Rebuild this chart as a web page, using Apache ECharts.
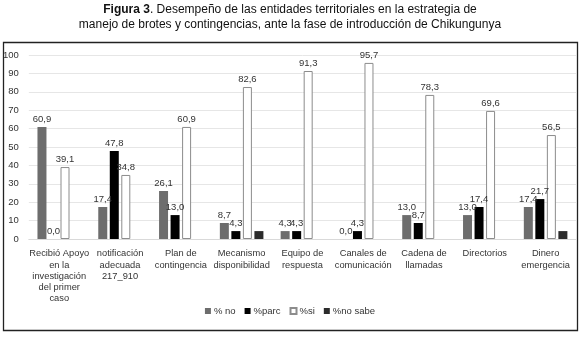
<!DOCTYPE html>
<html><head><meta charset="utf-8">
<script src="https://cdn.jsdelivr.net/npm/echarts@6/dist/echarts.min.js"></script>
<style>html,body{margin:0;padding:0;background:#fff}#c{width:580px;height:341px}</style>
</head><body><div id="c"></div>
<script>
const categories = [
  "Recibió Apoyo\nen la\ninvestigación\ndel primer\ncaso",
  "notificación\nadecuada\n217_910",
  "Plan de\ncontingencia",
  "Mecanismo\ndisponibilidad",
  "Equipo de\nrespuesta",
  "Canales de\ncomunicación",
  "Cadena de\nllamadas",
  "Directorios",
  "Dinero\nemergencia"
];
const seriesNames = ["% no", "%parc", "%si", "%no sabe"];
const noValues     = [60.9, 17.4, 26.1, 8.7, 4.3, 0.0, 13.0, 13.0, 17.4];
const parcValues   = [0.0, 47.8, 13.0, 4.3, 4.3, 4.3, 8.7, 17.4, 21.7];
const siValues     = [39.1, 34.8, 60.9, 82.6, 91.3, 95.7, 78.3, 69.6, 56.5];
const noSabeValues = [0, 0, 0, 4.3, 0, 0, 0, 0, 4.3];
const yTicks = [0, 10, 20, 30, 40, 50, 60, 70, 80, 90, 100];
const titleLine1 = ['Figura 3', '. Desempeño de las entidades territoriales en la estrategia de'];
const titleLine2 = 'manejo de brotes y contingencias, ante la fase de introducción de Chikungunya';

const FONT = '"Liberation Sans", Arial, sans-serif';
const fmt = p => p.value.toFixed(1).replace('.', ',');
const lbl = {show: true, position: 'top', distance: 3, formatter: fmt, color: '#333', fontSize: 9.5, fontFamily: FONT};

const chart = echarts.init(document.getElementById('c'), null, {renderer: 'canvas'});
chart.setOption({
  animation: false,
  textStyle: {fontFamily: FONT},
  graphic: [
    {type: 'text', x: 290, y: 4, silent: true,
      style: {text: '{b|' + titleLine1[0] + '}' + titleLine1[1], align: 'center', verticalAlign: 'top',
        fontSize: 12, fill: '#111', fontFamily: FONT,
        rich: {b: {fontWeight: 'bold', fontSize: 12, fill: '#111', fontFamily: FONT}}}},
    {type: 'text', x: 290, y: 19, silent: true,
      style: {text: titleLine2, align: 'center', verticalAlign: 'top', fontSize: 12, fill: '#111', fontFamily: FONT}},
    {type: 'rect', shape: {x: 3.5, y: 42.5, width: 574, height: 288}, style: {fill: 'none', stroke: '#222', lineWidth: 1.3}, silent: true}
  ],
  legend: {
    data: seriesNames, bottom: 20, left: 'center',
    itemWidth: 6, itemHeight: 6, itemGap: 9,
    icon: 'rect',
    textStyle: {fontSize: 9.5, color: '#333', fontFamily: FONT, padding: [0, 0, 0, -2]}
  },
  grid: {left: 26, right: 4, top: 55, bottom: 102, containLabel: false},
  xAxis: {
    type: 'category', data: categories,
    axisLine: {lineStyle: {color: '#d9d9d9'}},
    axisTick: {show: false},
    axisLabel: {interval: 0, color: '#333', fontSize: 9.3, lineHeight: 11.3, margin: 9, fontFamily: FONT}
  },
  yAxis: {
    type: 'value', min: 0, max: 100, interval: 10,
    axisLine: {show: false}, axisTick: {show: false},
    splitLine: {lineStyle: {color: '#e6e6e6'}},
    axisLabel: {color: '#333', fontSize: 9.5, margin: 10, fontFamily: FONT,
      formatter: v => yTicks.includes(v) ? String(v) : ''}
  },
  series: [
    {name: seriesNames[0], type: 'bar', data: noValues, barWidth: 9, barGap: '28%',
      itemStyle: {color: '#6d6d6d'}, label: lbl},
    {name: seriesNames[1], type: 'bar', data: parcValues, barWidth: 9,
      itemStyle: {color: '#000'}, label: lbl},
    {name: seriesNames[2], type: 'bar', data: siValues, barWidth: 9,
      itemStyle: {color: '#fff', borderColor: '#8c8c8c', borderWidth: 1}, label: lbl},
    {name: seriesNames[3], type: 'bar', data: noSabeValues, barWidth: 9,
      itemStyle: {color: '#2b2b2b'}, label: {show: false}}
  ]
});
</script></body></html>
